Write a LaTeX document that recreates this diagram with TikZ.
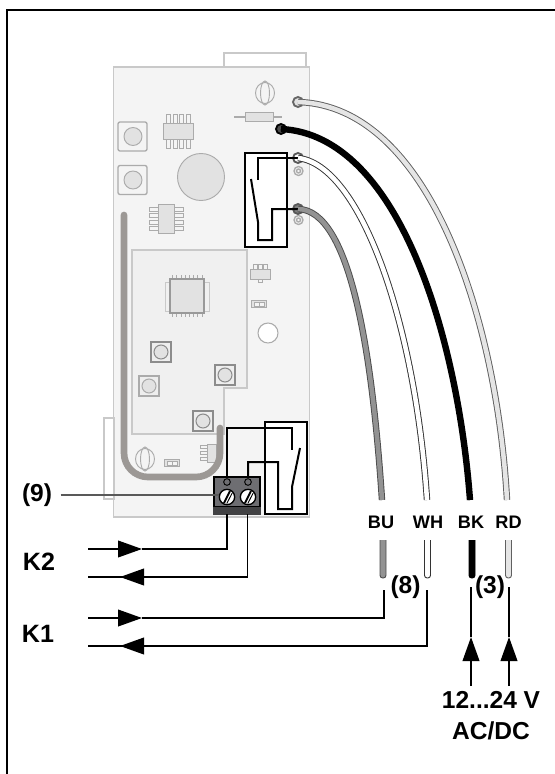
\documentclass[tikz,border=0pt]{standalone}
\usepackage{fontspec}
\setmainfont{Liberation Sans}
\usepackage{xcolor}
\usetikzlibrary{arrows.meta,calc}
\definecolor{boardfill}{HTML}{F4F4F4}
\definecolor{boardline}{HTML}{C9C9C9}
\definecolor{partfill}{HTML}{E2E2E2}
\definecolor{partline}{HTML}{ABABAB}
\definecolor{antenna}{HTML}{9C9895}
\definecolor{blockfill}{HTML}{6E6E72}

\begin{document}
\begin{tikzpicture}[
    x=0.75pt, y=-0.75pt,
    board/.style={draw=boardline, fill=boardfill, line width=0.9pt},
    part/.style={draw=partline, fill=partfill, line width=0.7pt},
    pad/.style={draw=#1, line width=1pt},
    relaybox/.style={draw=black, fill=white, line width=1.3pt},
    contact/.style={draw=black, line width=1.5pt},
    signal/.style={draw=black, line width=1.35pt},
    head/.style={signal, -{Triangle[length=18pt,width=12.5pt]}},
    wire/.style={line width=0.7pt, draw=#1, double distance=3.4pt},
    term/.style={circle, draw=#1, line width=1.4pt, minimum size=7.5pt, inner sep=0pt},
    stub/.style={draw=#1, line width=0.7pt, rounded corners=2pt},
    bigtext/.style={font=\bfseries\fontsize{18.4}{20}\selectfont},
    wiretext/.style={font=\bfseries\fontsize{13.6}{15}\selectfont}
]
\useasboundingbox (0,0) rectangle (555,774);

% Frame
\draw[black, line width=1.5pt] (6.5,774) -- (6.5,10) -- (555,10);

% Board
\draw[board, fill=white] (224,67) rectangle (306,53);
\draw[board] (113.5,67) rectangle (309.5,517);
\draw[board, fill=none] (104,418) rectangle (114,499);
\draw[boardline, line width=0.9pt, fill=boardfill!80!partfill]
    (132,250) -- (247,250) -- (247,388) -- (224,388) -- (224,434) -- (132,434) -- cycle;

% Parts, upper half
\foreach \y in {136.5,180} {
    \draw[pad=partline, fill=boardfill, rounded corners=1.5pt] (118,\y-14.5) rectangle (147,\y+14.5);
    \draw[part] (133,\y) circle (9);
}
\draw[part] (201,177) circle (23.5);
\foreach \x in {168,175,181,188} {
    \draw[part, fill=boardfill] (\x-2,114) rectangle (\x+2,148);
}
\draw[part] (163,123) rectangle (193,139);
\foreach \y in {209,215,222,228} {
    \draw[part, fill=boardfill] (149,\y-2) rectangle (183,\y+2);
}
\draw[part] (158,204) rectangle (174,233);
\draw[partline, line width=1.4pt] (234,117) -- (282,117);
\draw[part] (245,112) rectangle (273,121);
\foreach \x/\y in {265/93,145/459} {
    \draw[part, fill=boardfill] (\x,\y) ellipse (9.5 and 10.5);
    \draw[part, fill=none] (\x,\y) ellipse (4.5 and 12);
}

% Parts, inner board
\foreach \i in {0,...,7} {
    \draw[partline, line width=0.5pt] (172.5+\i*4.2,275) -- (172.5+\i*4.2,317);
    \draw[partline, line width=0.5pt] (165,282+\i*4.2) -- (209,282+\i*4.2);
}
\draw[part, fill=boardfill!80!partfill, draw=boardline] (165,282) rectangle (209,311);
\draw[part, fill=partfill, draw=gray!80, line width=0.9pt] (170,279) rectangle (204,313);
\foreach \x/\y/\c in {161/352/gray!90,149/386/partline,225/375/gray!90,203/421/gray!90} {
    \draw[draw=\c, fill=partfill!60, line width=1pt] (\x-10,\y-10) rectangle (\x+10,\y+10);
    \draw[draw=\c, fill=partfill, line width=0.8pt] (\x,\y) circle (7);
}

% Parts, right side
\foreach \x in {255,260,265} {
    \draw[part, fill=boardfill] (\x-2,264) rectangle (\x+2,270);
}
\draw[part] (250,269) rectangle (270,279);
\draw[part, fill=boardfill] (258,279) rectangle (262,282);
\foreach \x/\y in {259/304,172/463} {
    \draw[part] (\x-7.5,\y-3.5) rectangle (\x+7.5,\y+3.5);
    \draw[part, fill=boardfill] (\x-5,\y-2) rectangle (\x,\y+2);
    \draw[part, fill=boardfill] (\x,\y-2) rectangle (\x+5,\y+2);
}
\draw[partline, line width=0.8pt, fill=white] (268,333) circle (10);
\foreach \y in {447,453,459} {
    \draw[part, fill=boardfill] (200,\y-1.5) rectangle (208,\y+1.5);
}
\draw[part] (207,444) rectangle (216,462);

% Antenna
\draw[antenna, line width=5pt, line cap=round, rounded corners=18]
    (124,215) -- (124,477) -- (220,477) -- (220,428);

% Relay, upper
\node[relaybox, minimum width=31.5pt, minimum height=70.5pt, inner sep=0pt] (relayA) at (266,200) {};
\coordinate (contactA) at (258,180);
\coordinate (bladeA) at (258,222);
\draw[partline, line width=1pt] (298.5,171) circle (4.5) (298.5,171) circle (2);
\draw[partline, line width=1pt] (298.5,220) circle (4.5) (298.5,220) circle (2);

% Terminals
\node[term=gray!80!black, fill=partfill] (termRD) at (298,102) {};
\node[term=black, fill=black!70] (termBK) at (281,129) {};
\node[term=gray!70!black, fill=white] (termWH) at (298,158) {};
\node[term=gray!70!black, fill=gray] (termBU) at (298,209) {};

\draw[contact] (termWH.center) -| (contactA);
\draw[contact] (251,179) -- (bladeA) -- (258,240) -- (272,240) |- (termBU.center);

% Wires
\coordinate (endRD) at (507,500);
\coordinate (endBK) at (470,500);
\coordinate (endWH) at (427,500);
\coordinate (endBU) at (382,500);
\draw[wire=gray!75!black, double=partfill!90!white] (termRD.center) .. controls (430,106) and (497,320) .. (endRD);
\draw[wire=black, double=black] (termBK.center) .. controls (400,135) and (458,340) .. (endBK);
\draw[wire=black!80, double=white] (termWH.center) .. controls (360,165) and (415,320) .. (endWH);
\draw[wire=black!70, double=gray!85] (termBU.center) .. controls (350,210) and (372,350) .. (endBU);

% Wire stubs
\foreach \x/\c/\k in {383/gray!85/black!70,427.5/white/black!80,472/black/black,508.5/partfill!90!white/gray!75!black} {
    \draw[stub=\k, fill=\c] (\x-3,540) -- (\x-3,578) -- (\x+3,578) -- (\x+3,540);
}

% Relay, lower
\node[relaybox, minimum width=31.5pt, minimum height=69pt, inner sep=0pt] (relayB) at (286,468) {};

% Terminal block
\node[draw=black, fill=blockfill, line width=0.8pt, minimum width=34.5pt, minimum height=27.8pt, inner sep=0pt] (block) at (237,495.5) {};
\draw[black, line width=1pt] (block.west |- 0,507) -- (block.east |- 0,507);
\fill[blockfill!60!black] (block.west |- 0,507) rectangle (block.south east);
\node[circle, draw=black, fill=blockfill, line width=0.7pt, minimum size=5pt, inner sep=0pt] (ringA) at (227,482) {};
\node[circle, draw=black, fill=blockfill, line width=0.7pt, minimum size=5pt, inner sep=0pt] (ringB) at (248,482) {};
\node[circle, draw=black, fill=white, line width=1pt, minimum size=11.5pt, inner sep=0pt] (screwA) at (227,497) {};
\node[circle, draw=black, fill=white, line width=1pt, minimum size=11.5pt, inner sep=0pt] (screwB) at (248,497) {};
\foreach \s in {screwA,screwB} {
    \draw[black, line width=1.4pt] ($(\s)+(-3,6)$) -- ($(\s)+(3,-6)$);
    \draw[black, line width=0.7pt] ($(\s)+(-0.2,6.5)$) -- ($(\s)+(5.2,-4)$);
}

% Relay contacts, lower
\coordinate (k2a) at (227,477);
\coordinate (k2b) at (248,477);
\draw[contact] (k2a) |- (292,428) -- (292,450);
\draw[contact] (300,448) -- (292,487) -- (292,509) -- (278,509) -- (278,462) -| (k2b);

% Leader
\node[bigtext] (nine) at (37,495) {(9)};
\coordinate (leaderEnd) at (219,495);
\draw[gray!70!black, line width=0.8pt] (nine.east) ++(4,0) -- (leaderEnd);

% K2
\node[bigtext, font=\bfseries\fontsize{18.8}{20}\selectfont] (kTwo) at (39,562) {K2};
\coordinate (k2in) at (88,549);
\coordinate (k2out) at (88,577);
\coordinate (k2inTip) at (142,549);
\coordinate (k2outTip) at (120,577);
\coordinate (k2c) at (227,514);
\coordinate (k2d) at (247.5,514);
\draw[head] (k2in) -- (k2inTip);
\draw[signal] (k2inTip) -| (k2c);
\draw[signal] (k2d) |- (k2outTip);
\draw[head] (145,577) -- (k2outTip);
\draw[signal] (k2out) -- (k2outTip);

% K1
\node[bigtext, font=\bfseries\fontsize{18.8}{20}\selectfont] (kOne) at (38,634) {K1};
\coordinate (k1in) at (88,618);
\coordinate (k1out) at (88,646);
\coordinate (k1inTip) at (142,618);
\coordinate (k1outTip) at (120,646);
\coordinate (k1c) at (384,590);
\coordinate (k1d) at (427,590);
\draw[head] (k1in) -- (k1inTip);
\draw[signal] (k1inTip) -| (k1c);
\draw[signal] (k1d) |- (k1outTip);
\draw[head] (145,646) -- (k1outTip);
\draw[signal] (k1out) -- (k1outTip);

% Supply
\coordinate (bkTop) at (471,587);
\coordinate (rdTop) at (509,587);
\coordinate (bkTip) at (471,637);
\coordinate (rdTip) at (509,637);
\coordinate (bkEnd) at (471,686);
\coordinate (rdEnd) at (509,686);
\draw[head] (bkEnd) -- (bkTip);
\draw[signal] (bkTip) -- (bkTop);
\draw[head] (rdEnd) -- (rdTip);
\draw[signal] (rdTip) -- (rdTop);

% Labels
\node[wiretext] (labelBU) at (381,522) {BU};
\node[wiretext] (labelWH) at (428,522) {WH};
\node[wiretext] (labelBK) at (471,522) {BK};
\node[wiretext] (labelRD) at (508.5,522) {RD};
\node[bigtext] (labelEight) at (405.5,587) {(8)};
\node[bigtext] (labelThree) at (490,587) {(3)};
\node[bigtext] (labelVolt) at (491,700) {12...24 V};
\node[bigtext] (labelAcdc) at (491,731) {AC/DC};

\end{tikzpicture}
\end{document}
